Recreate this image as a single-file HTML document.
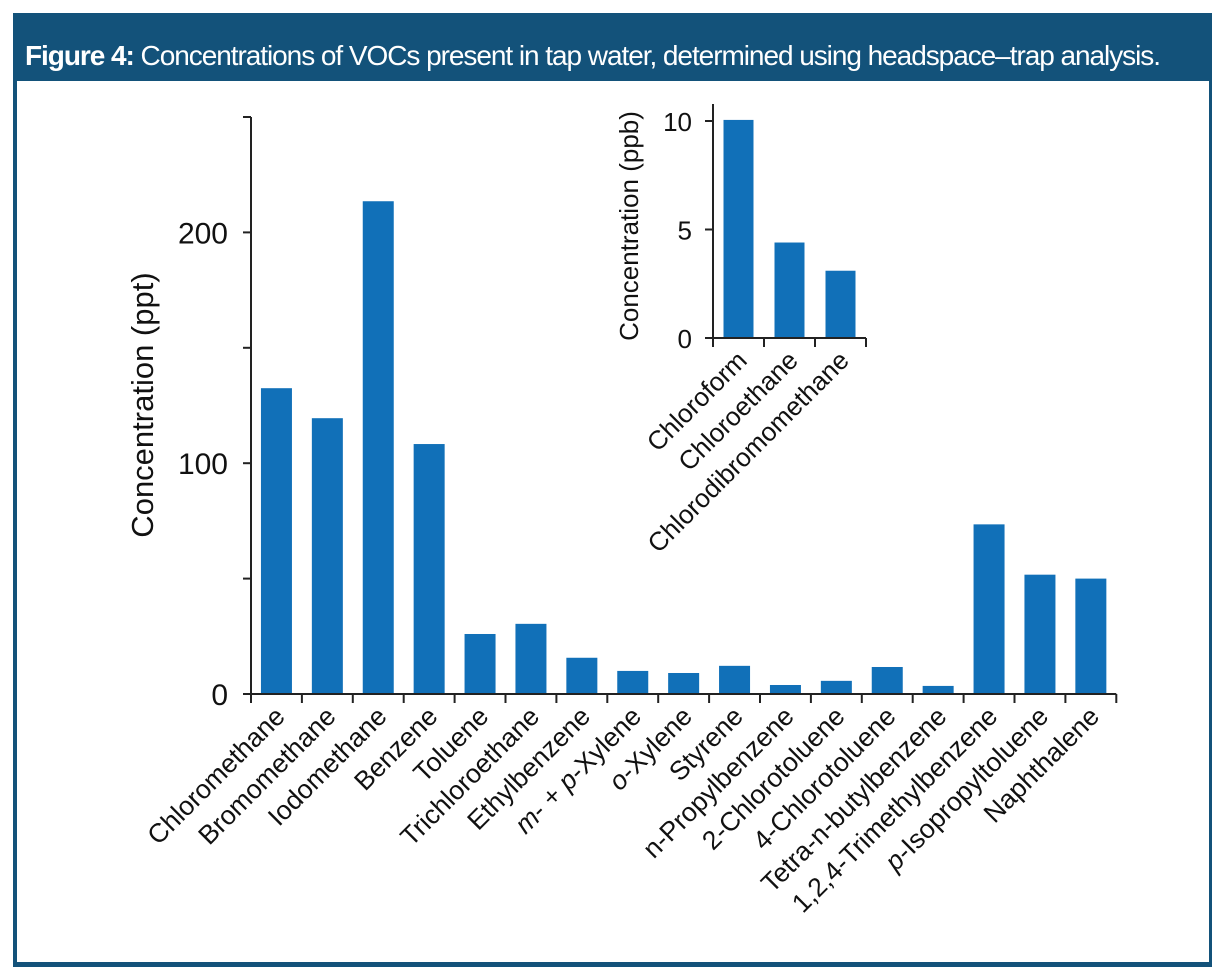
<!DOCTYPE html>
<html><head><meta charset="utf-8"><style>
body{margin:0;background:#fff;font-family:"Liberation Sans",sans-serif}
#frame{position:absolute;left:13px;top:13px;width:1199px;height:954px;background:#13527a}
#title{position:absolute;left:12px;top:27px;color:#fff;font-size:28px;letter-spacing:-1.05px;white-space:nowrap}
#inner{position:absolute;left:17px;top:81px;width:1192px;height:881px;background:#fff}
svg{position:absolute;left:0;top:0}
text{font-family:"Liberation Sans",sans-serif;fill:#111}
</style></head><body>
<div id="frame">
<div id="title"><b>Figure 4:</b> Concentrations of VOCs present in tap water, determined using headspace–trap analysis.</div>
</div>
<div id="inner"></div>
<svg id="chart" width="1224" height="978"></svg>
<script>
const categories=["Chloromethane","Bromomethane","Iodomethane","Benzene","Toluene","Trichloroethane","Ethylbenzene","m- + p-Xylene","o-Xylene","Styrene","n-Propylbenzene","2-Chlorotoluene","4-Chlorotoluene","Tetra-n-butylbenzene","1,2,4-Trimethylbenzene","p-Isopropyltoluene","Naphthalene"];
const values=[132.5,119.5,213.5,108.3,26,30.4,15.7,10,9.1,12.2,3.9,5.7,11.7,3.5,73.5,51.7,50];
const yTicks=[0,50,100,150,200,250];
const yLabels=["0","","100","","200",""];
const insetCategories=["Chloroform","Chloroethane","Chlorodibromomethane"];
const insetValues=[10.05,4.4,3.1];
const insetTicks=[0,5,10];

const NS="http://www.w3.org/2000/svg";
const svg=document.getElementById('chart');
function mk(t,a,p){const e=document.createElementNS(NS,t);for(const k in a)e.setAttribute(k,a[k]);(p||svg).appendChild(e);return e;}
const BLUE="#1170b8";
const x0=251,y0=694,step=50.9,sy=2.308;
const xs=i=>x0+step*(i+0.5);
const ys=v=>y0-v*sy;
let g=mk('g',{});


values.forEach((v,i)=>{
  const r=mk('rect',{x:xs(i)-15.5,y:ys(v),width:31,height:y0-ys(v),fill:BLUE},g);
  
  
});
let ax=mk('g',{stroke:'#222','stroke-width':2});


mk('line',{x1:x0,y1:ys(250),x2:x0,y2:y0},ax);
mk('line',{x1:243,y1:y0,x2:x0+step*categories.length,y2:y0},ax);
yTicks.forEach(t=>mk('line',{x1:243,y1:ys(t),x2:x0,y2:ys(t)},ax));
for(let i=0;i<=categories.length;i++)mk('line',{x1:x0+step*i,y1:y0,x2:x0+step*i,y2:y0+9},ax);
yTicks.forEach((t,i)=>{if(!yLabels[i])return;const e=mk('text',{x:228,y:ys(t)+11,'text-anchor':'end','font-size':30});e.textContent=yLabels[i];
});
categories.forEach((c,i)=>{
  const x=xs(i)+10,y=y0+24;
  const e=mk('text',{x:x,y:y,'text-anchor':'end','font-size':26.5,transform:`rotate(-45 ${x} ${y})`});
  
  
  if(c.startsWith('m- + p')){e.innerHTML='<tspan font-style="italic">m</tspan>- + <tspan font-style="italic">p</tspan>-Xylene';}
  else if(c.startsWith('o-')){e.innerHTML='<tspan font-style="italic">o</tspan>-Xylene';}
  else if(c.startsWith('p-')){e.innerHTML='<tspan font-style="italic">p</tspan>-Isopropyltoluene';}
  else e.textContent=c;
});
let yt=mk('text',{x:153,y:405,'text-anchor':'middle','font-size':31,transform:'rotate(-90 153 405)'});
yt.textContent='Concentration (ppt)';


const ix0=713,iy0=338,istep=51,isy=21.7;
const ixs=i=>ix0+istep*(i+0.5), iys=v=>iy0-v*isy;
let ig=mk('g',{});


insetValues.forEach((v,i)=>{
  const r=mk('rect',{x:ixs(i)-15,y:iys(v),width:30,height:iy0-iys(v),fill:BLUE},ig);
  
  
});
let iax=mk('g',{stroke:'#222','stroke-width':2});


mk('line',{x1:ix0,y1:104,x2:ix0,y2:iy0+9},iax);
mk('line',{x1:705,y1:iy0,x2:ix0+istep*3,y2:iy0},iax);
insetTicks.forEach(t=>mk('line',{x1:705,y1:iys(t),x2:ix0,y2:iys(t)},iax));
for(let i=0;i<=3;i++)mk('line',{x1:ix0+istep*i,y1:iy0,x2:ix0+istep*i,y2:iy0+9},iax);
insetTicks.forEach(t=>{const e=mk('text',{x:692,y:iys(t)+10,'text-anchor':'end','font-size':26});e.textContent=t;
});
insetCategories.forEach((c,i)=>{
  const x=ixs(i)+10,y=iy0+24;
  const e=mk('text',{x:x,y:y,'text-anchor':'end','font-size':26,transform:`rotate(-45 ${x} ${y})`});
  e.textContent=c;
  
  
});
let it=mk('text',{x:638,y:226,'text-anchor':'middle','font-size':26,transform:'rotate(-90 638 226)'});
it.textContent='Concentration (ppb)';


</script>
</body></html>
